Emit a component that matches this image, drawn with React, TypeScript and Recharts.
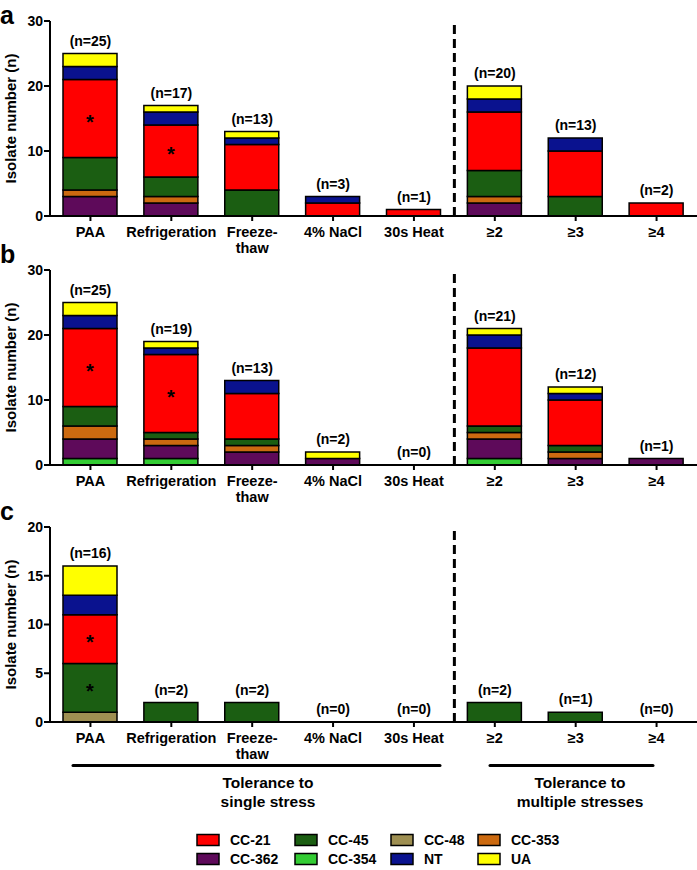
import React from "react";
import {
  ComposedChart,
  Bar,
  Line,
  XAxis,
  YAxis,
  ReferenceLine,
  LabelList,
} from "recharts";

const FONT = '"Liberation Sans", Arial, sans-serif';

const categories = ["PAA", "Refrigeration", "Freeze-\nthaw", "4% NaCl", "30s Heat", "≥2", "≥3", "≥4"];

// bottom-to-top stacking order
const seriesKeys = ["cc354", "cc362", "cc48", "cc353", "cc45", "cc21", "nt", "ua"];
const seriesColors: Record<string, string> = {
  cc21: "#ff0000",
  cc45: "#1b5e12",
  cc48: "#9e8f52",
  cc353: "#cc6a10",
  cc362: "#5e0a5a",
  cc354: "#33cc33",
  nt: "#0a128f",
  ua: "#ffff00",
};

// legend order as printed
const legendKeys = ["cc21", "cc45", "cc48", "cc353", "cc362", "cc354", "nt", "ua"];
const legendNames = ["CC-21", "CC-45", "CC-48", "CC-353", "CC-362", "CC-354", "NT", "UA"];

// panel a
const a354 = [0, 0, 0, 0, 0, 0, 0, 0];
const a362 = [3, 2, 0, 0, 0, 2, 0, 0];
const a48 = [0, 0, 0, 0, 0, 0, 0, 0];
const a353 = [1, 1, 0, 0, 0, 1, 0, 0];
const a45 = [5, 3, 4, 0, 0, 4, 3, 0];
const a21 = [12, 8, 7, 2, 1, 9, 7, 2];
const aNT = [2, 2, 1, 1, 0, 2, 2, 0];
const aUA = [2, 1, 1, 0, 0, 2, 0, 0];
const aN = [25, 17, 13, 3, 1, 20, 13, 2];
const aStar21 = [1, 1, 0, 0, 0, 0, 0, 0];
const aStar45 = [0, 0, 0, 0, 0, 0, 0, 0];

// panel b
const b354 = [1, 1, 0, 0, 0, 1, 0, 0];
const b362 = [3, 2, 2, 1, 0, 3, 1, 1];
const b48 = [0, 0, 0, 0, 0, 0, 0, 0];
const b353 = [2, 1, 1, 0, 0, 1, 1, 0];
const b45 = [3, 1, 1, 0, 0, 1, 1, 0];
const b21 = [12, 12, 7, 0, 0, 12, 7, 0];
const bNT = [2, 1, 2, 0, 0, 2, 1, 0];
const bUA = [2, 1, 0, 1, 0, 1, 1, 0];
const bN = [25, 19, 13, 2, 0, 21, 12, 1];
const bStar21 = [1, 1, 0, 0, 0, 0, 0, 0];
const bStar45 = [0, 0, 0, 0, 0, 0, 0, 0];

// panel c
const c354 = [0, 0, 0, 0, 0, 0, 0, 0];
const c362 = [0, 0, 0, 0, 0, 0, 0, 0];
const c48 = [1, 0, 0, 0, 0, 0, 0, 0];
const c353 = [0, 0, 0, 0, 0, 0, 0, 0];
const c45 = [5, 2, 2, 0, 0, 2, 1, 0];
const c21 = [5, 0, 0, 0, 0, 0, 0, 0];
const cNT = [2, 0, 0, 0, 0, 0, 0, 0];
const cUA = [3, 0, 0, 0, 0, 0, 0, 0];
const cN = [16, 2, 2, 0, 0, 2, 1, 0];
const cStar21 = [1, 0, 0, 0, 0, 0, 0, 0];
const cStar45 = [1, 0, 0, 0, 0, 0, 0, 0];

const buildRows = (
  vals: number[][],
  n: number[],
  star21: number[],
  star45: number[]
) =>
  categories.map((_, i) => {
    const row: Record<string, any> = { x: i };
    let total = 0;
    seriesKeys.forEach((k, j) => {
      row[k] = vals[j][i];
      total += vals[j][i];
    });
    row.total = total;
    row.nlab = `(n=${n[i]})`;
    row.s21 = star21[i] ? "*" : "";
    row.s45 = star45[i] ? "*" : "";
    return row;
  });

const rowsA = buildRows([a354, a362, a48, a353, a45, a21, aNT, aUA], aN, aStar21, aStar45);
const rowsB = buildRows([b354, b362, b48, b353, b45, b21, bNT, bUA], bN, bStar21, bStar45);
const rowsC = buildRows([c354, c362, c48, c353, c45, c21, cNT, cUA], cN, cStar21, cStar45);

const XTick = (props: any) => {
  const { x, y, payload } = props;
  const lines = categories[payload.value].split("\n");
  return (
    <text x={x} y={y} textAnchor="middle" fontFamily={FONT} fontWeight={700} fontSize={14.5} fill="#000">
      {lines.map((l, k) => (
        <tspan key={k} x={x} dy={k === 0 ? 14 : 15.5}>
          {l}
        </tspan>
      ))}
    </text>
  );
};

const starLabel = (props: any) => {
  const vb = props.viewBox || props;
  if (!props.value) return null;
  return (
    <text
      x={vb.x + vb.width / 2}
      y={vb.y + vb.height / 2 + 10}
      textAnchor="middle"
      fontFamily={FONT}
      fontWeight={700}
      fontSize={20}
      fill="#000"
    >
      *
    </text>
  );
};

const Panel: React.FC<{
  rows: any[];
  top: number;
  yMax: number;
  yTicks: number[];
}> = ({ rows, top, yMax, yTicks }) => (
  <div style={{ position: "absolute", left: 0, top }}>
    <ComposedChart
      width={697}
      height={20 + 195 + 45}
      data={rows}
      margin={{ top: 20, right: 0, bottom: 0, left: 0 }}
    >
      <XAxis
        type="number"
        dataKey="x"
        domain={[-0.5, 7.5]}
        ticks={[0, 1, 2, 3, 4, 5, 6, 7]}
        interval={0}
        tick={<XTick />}
        tickSize={5}
        tickMargin={2}
        height={45}
        axisLine={{ stroke: "#000", strokeWidth: 2 }}
        tickLine={{ stroke: "#000", strokeWidth: 2 }}
      />
      <YAxis
        type="number"
        domain={[0, yMax]}
        ticks={yTicks}
        interval={0}
        width={50}
        tickSize={6}
        tickMargin={1}
        axisLine={{ stroke: "#000", strokeWidth: 2 }}
        tickLine={{ stroke: "#000", strokeWidth: 2 }}
        tick={{ fill: "#000", fontSize: 14, fontWeight: 700, fontFamily: FONT }}
        label={{
          value: "Isolate number (n)",
          angle: -90,
          position: "insideLeft",
          offset: 11,
          style: { textAnchor: "middle", fontWeight: 700, fontSize: 15, fill: "#000", fontFamily: FONT },
        }}
      />
      <ReferenceLine x={4.5} stroke="#000" strokeWidth={3} strokeDasharray="9 5" />
      {seriesKeys.map((k) => (
        <Bar
          key={k}
          dataKey={k}
          stackId="s"
          fill={seriesColors[k]}
          stroke="#000"
          strokeWidth={1.5}
          barSize={54}
          isAnimationActive={false}
        >
          {k === "cc21" && <LabelList dataKey="s21" content={starLabel} />}
          {k === "cc45" && <LabelList dataKey="s45" content={starLabel} />}
        </Bar>
      ))}
      <Line
        dataKey="total"
        stroke="none"
        dot={false}
        activeDot={false}
        isAnimationActive={false}
      >
        <LabelList
          dataKey="nlab"
          position="top"
          offset={8}
          style={{ fill: "#000", fontSize: 14, fontWeight: 700, fontFamily: FONT }}
        />
      </Line>
    </ComposedChart>
  </div>
);

const PanelLetter: React.FC<{ letter: string; y: number }> = ({ letter, y }) => (
  <div
    style={{
      position: "absolute",
      left: 0,
      top: y,
      fontFamily: FONT,
      fontWeight: 700,
      fontSize: 25,
      lineHeight: "28px",
      color: "#000",
    }}
  >
    {letter}
  </div>
);

const legendCols = [197, 295, 391, 478];
const legendRows = [840, 859];

export default function App() {
  return (
    <div
      style={{
        position: "absolute",
        left: 0,
        top: 0,
        width: 697,
        height: 870,
        background: "#fff",
        overflow: "hidden",
      }}
    >
      <Panel rows={rowsA} top={1} yMax={30} yTicks={[0, 10, 20, 30]} />
      <Panel rows={rowsB} top={250} yMax={30} yTicks={[0, 10, 20, 30]} />
      <Panel rows={rowsC} top={507} yMax={20} yTicks={[0, 5, 10, 15, 20]} />
      <PanelLetter letter="a" y={1} />
      <PanelLetter letter="b" y={240} />
      <PanelLetter letter="c" y={497} />
      <svg
        width={697}
        height={120}
        style={{ position: "absolute", left: 0, top: 750 }}
        fontFamily={FONT}
        fontWeight={700}
      >
        <line x1={73} x2={440} y1={15.5} y2={15.5} stroke="#000" strokeWidth={3} strokeLinecap="round" />
        <line x1={490} x2={653} y1={15.5} y2={15.5} stroke="#000" strokeWidth={3} strokeLinecap="round" />
        <text x={268} y={38} textAnchor="middle" fontSize={15.5} fill="#000">
          Tolerance to
        </text>
        <text x={268} y={57} textAnchor="middle" fontSize={15.5} fill="#000">
          single stress
        </text>
        <text x={580} y={38} textAnchor="middle" fontSize={15.5} fill="#000">
          Tolerance to
        </text>
        <text x={580} y={57} textAnchor="middle" fontSize={15.5} fill="#000">
          multiple stresses
        </text>
        {legendKeys.map((k, i) => {
          const cx = legendCols[i % 4];
          const cy = legendRows[Math.floor(i / 4)] - 750;
          return (
            <g key={k}>
              <rect x={cx} y={cy - 5.5} width={22} height={11} fill={seriesColors[k]} stroke="#000" strokeWidth={1.5} />
              <text x={cx + 33} y={cy + 5} fontSize={14} fill="#000">
                {legendNames[i]}
              </text>
            </g>
          );
        })}
      </svg>
    </div>
  );
}
